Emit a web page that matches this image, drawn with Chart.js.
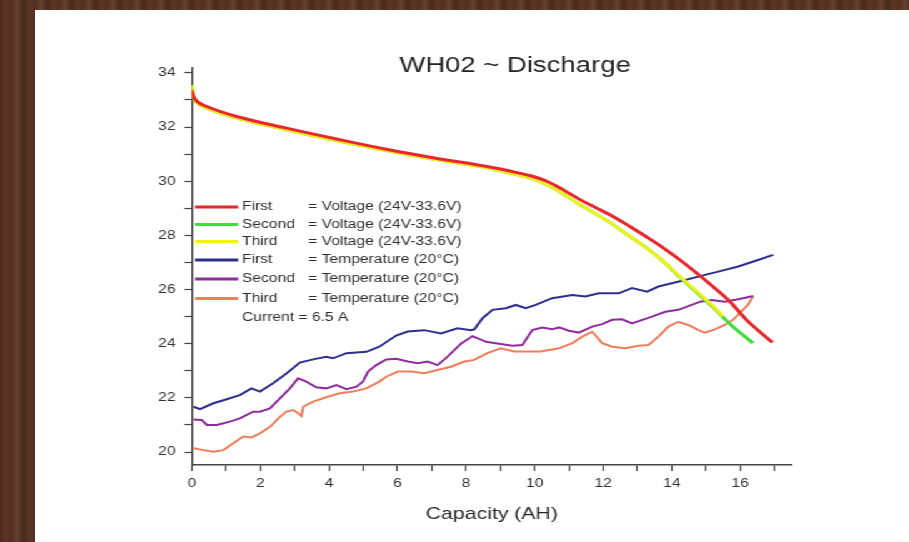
<!DOCTYPE html>
<html>
<head>
<meta charset="utf-8">
<title>WH02 ~ Discharge</title>
<script src="https://cdn.jsdelivr.net/npm/chart.js@4.4.1/dist/chart.umd.min.js"></script>
<style>
  body {
    margin: 0;
    width: 909px;
    height: 542px;
    overflow: hidden;
    background: repeating-linear-gradient(90deg, #4a2b1e 0px, #5e3826 6px, #4f2e20 11px, #67402c 17px, #48291c 24px);
  }
  #panel {
    position: absolute;
    left: 35px;
    top: 10px;
    width: 700px;
    height: 532px;
    background: #fff;
    transform: scaleX(1.25);
    transform-origin: 0 0;
  }
</style>
</head>
<body>
<div id="panel"><canvas id="myChart" width="700" height="532"></canvas></div>
<script>
const chartTitle = 'WH02 ~ Discharge';
const xTitle = 'Capacity (AH)';

// voltage, first run (red)
const firstVoltCap = [0, 0.05, 0.15, 0.44, 1.31, 2.76, 4.22, 5.67, 7.12, 8.43, 9.0, 9.55, 9.88, 10.37, 10.85, 11.34, 11.8, 12.3, 12.79, 13.28, 13.76, 14.24, 14.73, 15.21, 15.7, 16.18, 16.94];
const firstVolt = [33.35, 33.13, 32.95, 32.76, 32.39, 31.96, 31.56, 31.18, 30.85, 30.58, 30.45, 30.3, 30.2, 29.99, 29.67, 29.31, 29.01, 28.69, 28.32, 27.93, 27.53, 27.09, 26.6, 26.1, 25.55, 24.88, 24.04];

// voltage, second run (green)
const secondVoltCap = [0, 0.05, 0.15, 0.44, 1.31, 2.76, 4.22, 5.67, 7.12, 8.43, 9.0, 9.88, 10.37, 10.85, 11.34, 11.8, 12.3, 12.79, 13.28, 13.76, 14.24, 14.73, 15.21, 15.7, 16.37];
const secondVolt = [33.55, 33.1, 32.9, 32.7, 32.33, 31.9, 31.5, 31.13, 30.8, 30.54, 30.38, 30.11, 29.86, 29.52, 29.12, 28.78, 28.39, 27.95, 27.52, 27.03, 26.45, 25.89, 25.34, 24.73, 24.02];

// voltage, third run (yellow)
const thirdVoltCap = [0, 0.05, 0.15, 0.44, 1.31, 2.76, 4.22, 5.67, 7.12, 8.43, 9.0, 9.88, 10.37, 10.85, 11.34, 11.8, 12.3, 12.79, 13.28, 13.76, 14.24, 14.73, 15.21, 15.5];
const thirdVolt = [33.55, 33.1, 32.9, 32.7, 32.33, 31.9, 31.5, 31.13, 30.8, 30.54, 30.38, 30.11, 29.86, 29.52, 29.12, 28.78, 28.39, 27.95, 27.52, 27.03, 26.47, 25.93, 25.38, 25.01];

// temperature, first run (blue)
const firstTempCap = [0.05, 0.24, 0.63, 1.02, 1.4, 1.74, 1.99, 2.37, 2.76, 3.15, 3.54, 3.92, 4.12, 4.51, 5.09, 5.47, 5.96, 6.3, 6.78, 7.27, 7.75, 8.14, 8.24, 8.48, 8.77, 9.16, 9.45, 9.74, 10.03, 10.51, 11.1, 11.48, 11.87, 12.45, 12.84, 13.28, 13.61, 14.39, 14.97, 15.36, 15.94, 16.52, 16.96];
const firstTemp = [21.67, 21.58, 21.8, 21.95, 22.1, 22.35, 22.23, 22.54, 22.9, 23.3, 23.42, 23.52, 23.46, 23.65, 23.7, 23.89, 24.3, 24.45, 24.5, 24.38, 24.57, 24.5, 24.53, 24.94, 25.25, 25.31, 25.43, 25.31, 25.43, 25.68, 25.8, 25.74, 25.86, 25.86, 26.05, 25.92, 26.11, 26.35, 26.54, 26.66, 26.85, 27.09, 27.28];

// temperature, second run (purple)
const secondTempCap = [0.05, 0.29, 0.44, 0.73, 1.11, 1.4, 1.79, 1.99, 2.28, 2.57, 2.86, 3.1, 3.34, 3.63, 3.92, 4.22, 4.51, 4.8, 4.99, 5.14, 5.38, 5.67, 5.96, 6.3, 6.59, 6.88, 7.17, 7.46, 7.85, 8.19, 8.58, 8.96, 9.35, 9.64, 9.93, 10.22, 10.51, 10.71, 11.0, 11.29, 11.68, 11.97, 12.26, 12.55, 12.84, 13.42, 13.81, 14.19, 14.58, 14.83, 15.17, 15.55, 15.94, 16.38];
const secondTemp = [21.2, 21.18, 21.0, 21.0, 21.12, 21.24, 21.49, 21.49, 21.61, 21.98, 22.35, 22.72, 22.6, 22.39, 22.35, 22.47, 22.32, 22.41, 22.6, 22.97, 23.21, 23.42, 23.44, 23.34, 23.28, 23.34, 23.21, 23.52, 24.0, 24.28, 24.07, 24.0, 23.92, 23.95, 24.5, 24.6, 24.53, 24.6, 24.48, 24.41, 24.63, 24.72, 24.88, 24.9, 24.75, 25.0, 25.18, 25.25, 25.43, 25.55, 25.61, 25.55, 25.64, 25.76];

// temperature, third run (orange)
const thirdTempCap = [0.05, 0.34, 0.63, 0.92, 1.21, 1.5, 1.74, 1.99, 2.28, 2.57, 2.76, 2.96, 3.1, 3.2, 3.25, 3.54, 3.92, 4.31, 4.7, 5.09, 5.47, 5.67, 6.01, 6.4, 6.78, 7.17, 7.56, 7.95, 8.24, 8.62, 9.01, 9.4, 9.79, 10.17, 10.71, 11.1, 11.39, 11.68, 11.97, 12.26, 12.65, 13.03, 13.32, 13.61, 13.9, 14.19, 14.48, 14.78, 14.97, 15.26, 15.55, 15.79, 16.03, 16.22, 16.37];
const thirdTemp = [20.14, 20.07, 20.01, 20.07, 20.32, 20.57, 20.54, 20.69, 20.93, 21.3, 21.49, 21.55, 21.43, 21.33, 21.67, 21.86, 22.02, 22.17, 22.23, 22.35, 22.6, 22.78, 22.97, 22.97, 22.91, 23.03, 23.15, 23.34, 23.4, 23.65, 23.83, 23.71, 23.71, 23.71, 23.83, 24.02, 24.26, 24.44, 24.02, 23.89, 23.83, 23.92, 23.95, 24.26, 24.63, 24.81, 24.69, 24.5, 24.41, 24.53, 24.69, 24.88, 25.18, 25.43, 25.74];

const legendNames = ['First', 'Second', 'Third', 'First', 'Second', 'Third'];
const legendTexts = ['= Voltage (24V-33.6V)', '= Voltage (24V-33.6V)', '= Voltage (24V-33.6V)',
                     '= Temperature (20°C)', '= Temperature (20°C)', '= Temperature (20°C)'];
const legendNote = 'Current = 6.5 A';

const colors = ['#e8262b', '#3fdc3a', '#eef21c', '#2c2e8e', '#8e2c9c', '#ef7d5c'];
const fontFamily = '"Liberation Sans", Arial, sans-serif';

function toPts(xs, ys) {
    return xs.map((x, i) => ({x: x, y: ys[i]}));
}

function line(label, xs, ys, color, width, order, smooth) {
    return {
        label: label,
        data: toPts(xs, ys),
        borderColor: color,
        borderWidth: width,
        pointRadius: 0,
        fill: false,
        order: order,
        cubicInterpolationMode: smooth ? 'monotone' : 'default',
        tension: 0
    };
}

// title + in-plot legend
const annotations = {
    id: 'annotations',
    afterDraw(chart) {
        const c = chart.ctx;
        c.save();
        c.fillStyle = '#222';
        c.textAlign = 'center';
        c.textBaseline = 'middle';
        c.font = '22px ' + fontFamily;
        c.fillText(chartTitle, 384, 56);

        const rows = [197, 214.5, 231.5, 250, 269, 288.5, 308];
        c.textAlign = 'left';
        c.font = '12.5px ' + fontFamily;
        c.fillStyle = '#2e2e2e';
        legendNames.forEach((name, i) => {
            c.strokeStyle = colors[i];
            c.lineWidth = 3;
            c.beginPath();
            c.moveTo(128, rows[i]);
            c.lineTo(162.5, rows[i]);
            c.stroke();
            c.fillText(name, 165.5, rows[i]);
            c.fillText(legendTexts[i], 218.5, rows[i]);
        });
        c.fillText(legendNote, 165.5, rows[6]);
        c.restore();
    }
};

const evenOnly = v => (Math.round(v) % 2 === 0 ? Math.round(v) : '');

const ctx = document.getElementById('myChart').getContext('2d');
const myChart = new Chart(ctx, {
    type: 'line',
    data: {
        datasets: [
            line('First Voltage', firstVoltCap, firstVolt, colors[0], 3, 1, true),
            line('Third Voltage', thirdVoltCap, thirdVolt, colors[2], 3, 2, true),
            line('Second Voltage', secondVoltCap, secondVolt, colors[1], 3, 3, true),
            line('First Temperature', firstTempCap, firstTemp, colors[3], 2, 4, false),
            line('Second Temperature', secondTempCap, secondTemp, colors[4], 2, 5, false),
            line('Third Temperature', thirdTempCap, thirdTemp, colors[5], 2, 6, false)
        ]
    },
    options: {
        responsive: false,
        animation: false,
        layout: {
            padding: {left: 85.4, right: 94.6, top: 58, bottom: 17}
        },
        plugins: {
            legend: {display: false},
            tooltip: {enabled: false}
        },
        scales: {
            x: {
                type: 'linear',
                min: 0,
                max: 17.5,
                afterFit: scale => { scale.height = 60; },
                ticks: {
                    stepSize: 1,
                    includeBounds: false,
                    autoSkip: false,
                    maxRotation: 0,
                    padding: 5,
                    color: '#2e2e2e',
                    font: {family: fontFamily, size: 12.5},
                    callback: evenOnly
                },
                grid: {drawOnChartArea: false, tickLength: 6, tickColor: '#444', tickWidth: 1.2},
                border: {color: '#444', width: 1.5},
                title: {
                    display: true,
                    text: xTitle,
                    color: '#262626',
                    font: {family: fontFamily, size: 17},
                    padding: {top: 4, bottom: 0}
                }
            },
            y: {
                min: 19.52,
                max: 34.18,
                afterFit: scale => { scale.width = 40; },
                ticks: {
                    stepSize: 1,
                    includeBounds: false,
                    autoSkip: false,
                    padding: 7,
                    color: '#2e2e2e',
                    font: {family: fontFamily, size: 12.5},
                    callback: evenOnly
                },
                grid: {drawOnChartArea: false, tickLength: 6, tickColor: '#444', tickWidth: 1.2},
                border: {color: '#444', width: 1.5}
            }
        }
    },
    plugins: [annotations]
});
</script>
</body>
</html>
